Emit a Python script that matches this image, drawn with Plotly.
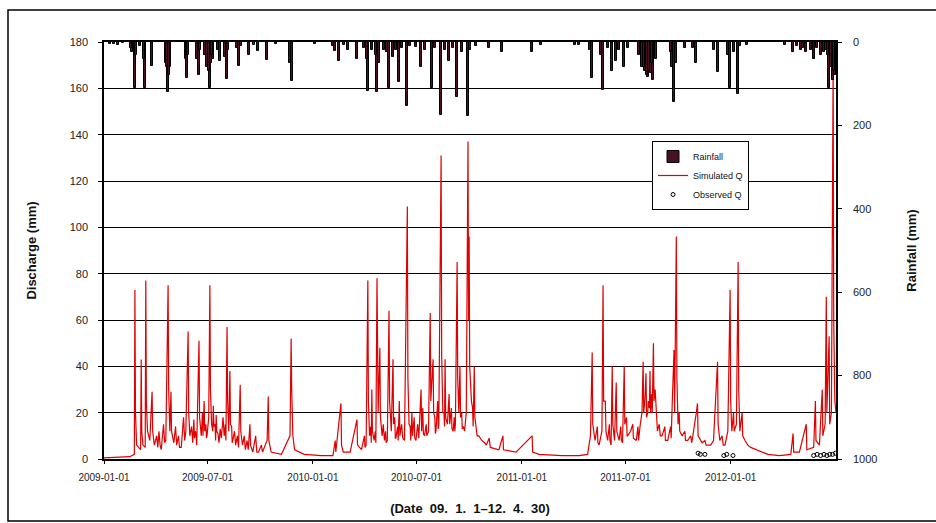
import pandas as pd
import plotly.graph_objects as go

START = "2009-01-01"

# Rainfall (mm): day offset from 2009-01-01 and daily total
rain_day = [10, 18, 25, 33, 49, 54, 63, 72, 83, 108, 112, 115, 143, 145, 166, 177, 182, 185,
            191, 203, 215, 236, 253, 269, 285, 325, 329, 369, 404, 411, 427, 442, 461, 468,
            477, 489, 498, 505, 516, 530, 535, 554, 573, 589, 603, 617, 636, 650, 673, 696,
            748, 764, 823, 830, 853, 872, 888, 895, 909, 916, 940, 946, 951, 956, 960, 965,
            993, 996, 1016, 1035, 1072, 1094, 1108, 1124, 1203, 1217, 1227, 1241, 1252,
            1262, 1267, 1273, 1278,
            48, 56, 70, 110, 114, 147, 163, 168, 180, 184, 187, 189, 200, 212, 217, 232, 240,
            262, 300, 400, 420, 455, 459, 475, 480, 495, 510, 520, 545, 560, 578, 595, 610,
            625, 640, 850, 868, 880, 900, 935, 943, 949, 953, 958, 990, 1000, 1030, 1065,
            1090, 1100, 1112, 1190, 1210, 1222, 1235, 1245, 1258, 1265, 1270, 1276]
rain_mm = [5, 4, 6, 3, 23, 110, 10, 110, 57, 50, 120, 60, 40, 86, 79, 30, 40, 110,
           40, 45, 89, 57, 30, 22, 43, 50, 93, 5, 22, 45, 20, 40, 117, 20,
           120, 20, 110, 35, 95, 153, 10, 60, 110, 175, 45, 131, 178, 10, 15, 25,
           25, 8, 8, 8, 86, 115, 70, 45, 60, 15, 60, 70, 85, 75, 90, 40,
           60, 143, 15, 50, 71, 110, 125, 8, 25, 20, 25, 40, 30,
           20, 110, 90, 80,
           15, 30, 40, 60, 80, 30, 40, 20, 60, 70, 50, 30, 20, 35, 20, 15, 10,
           8, 5, 10, 8, 15, 40, 30, 50, 25, 20, 15, 12, 20, 15, 20, 15,
           25, 20, 20, 30, 15, 20, 30, 60, 80, 70, 50, 25, 50, 15, 20,
           30, 25, 10, 8, 10, 15, 20, 15, 25, 30, 60, 70]

# Simulated discharge (mm): day offset and value
sim_day = [0, 20, 45, 53, 54, 55, 57, 64, 65, 66, 68, 72, 73, 74, 76, 80, 84, 85, 88, 100,
           108, 112, 113, 115, 117, 118, 122, 135, 143, 147, 148, 150, 157, 158, 162, 166,
           167, 170, 175, 176, 180, 185, 186, 188, 191, 192, 196, 197, 203, 205, 215, 216,
           218, 220, 221, 225, 230, 238, 239, 242, 255, 256, 260, 270, 285, 287, 288, 292,
           310, 325, 327, 328, 330, 333, 350, 380, 400, 404, 405, 414, 415, 418, 430, 442,
           443, 450, 458, 461, 462, 464, 468, 469, 472, 477, 478, 479, 482, 483, 486, 495,
           498, 499, 502, 505, 506, 510, 516, 517, 525, 530, 531, 533, 538, 539, 545, 554,
           555, 560, 567, 570, 571, 575, 576, 580, 585, 589, 590, 592, 596, 597, 600, 603,
           604, 610, 614, 617, 618, 620, 622, 623, 628, 633, 636, 637, 638, 639, 642, 647,
           648, 655, 665, 673, 675, 690, 697, 698, 720, 748, 749, 760, 800, 830, 845, 850,
           853, 854, 858, 865, 870, 872, 873, 876, 877, 880, 888, 889, 892, 895, 896, 900,
           909, 910, 915, 920, 930, 937, 942, 943, 947, 948, 951, 954, 955, 960, 961, 965,
           967, 975, 985, 993, 996, 997, 1000, 1001, 1003, 1010, 1020, 1035, 1037, 1038,
           1045, 1060, 1065, 1072, 1073, 1076, 1085, 1090, 1094, 1095, 1097, 1105, 1108,
           1109, 1111, 1115, 1116, 1125, 1140, 1160, 1180, 1200, 1204, 1205, 1215, 1227,
           1228, 1240, 1243, 1244, 1250, 1255, 1256, 1260, 1262, 1263, 1267, 1268, 1271,
           1274, 1275, 1277, 1279,
           92, 94, 96, 98, 104, 106, 125, 127, 130, 132, 139, 141, 153, 155, 160, 172, 173,
           178, 179, 183, 190, 194, 195, 199, 201, 208, 210, 212, 213, 223, 224, 228, 233,
           235, 245, 247, 250, 252, 265, 267, 275, 277,
           455, 456, 466, 467, 474, 475, 488, 490, 492, 493, 508, 509, 513, 514, 520, 522,
           535, 536, 542, 543, 548, 550, 557, 558, 563, 564, 578, 579, 583, 584, 594, 595,
           607, 608, 612, 613, 625, 626, 630, 644, 645, 650, 652, 660, 668,
           862, 863, 868, 883, 884, 886, 903, 904, 906, 913, 914, 924, 925, 933, 934, 940,
           945, 950, 953, 957, 958, 963, 970, 972, 980, 981, 990, 991, 1005, 1006, 1015,
           1016, 1025, 1027, 1050, 1052, 1080, 1082, 1100, 1101, 1120, 1130]
sim_q = [0.5, 0.8, 1.0, 2, 73, 20, 6, 4, 43, 12, 6, 5, 77, 25, 12, 8, 29, 12, 6, 4,
         8, 75, 30, 12, 29, 12, 7, 5, 12, 55, 20, 10, 17, 9, 6, 51,
         18, 10, 25, 12, 10, 75, 30, 15, 23, 14, 19, 12, 13, 9, 57, 25,
         12, 38, 15, 8, 6, 32, 12, 6, 15, 6, 3, 3, 8, 27, 8, 3,
         2, 10, 52, 30, 10, 4, 2, 1.5, 1.5, 8, 3, 24, 6, 3, 3, 17,
         6, 4, 6, 77, 25, 10, 30, 12, 8, 78, 48, 20, 48, 18, 10, 8,
         64, 25, 12, 43, 15, 9, 25, 10, 8, 109, 35, 15, 20, 10, 8, 30,
         12, 10, 12, 63, 25, 43, 20, 12, 15, 131, 45, 20, 43, 18, 15, 28,
         15, 12, 15, 85, 35, 20, 40, 18, 14, 20, 137, 60, 96, 40, 25, 40,
         18, 10, 7, 9, 5, 4, 10, 4, 3, 10, 3, 2, 1.5, 1.5, 2, 10,
         46, 15, 8, 6, 12, 75, 25, 25, 12, 8, 40, 15, 8, 33, 12, 8,
         40, 15, 10, 12, 8, 15, 42, 20, 37, 18, 25, 38, 20, 50, 25, 20,
         12, 10, 8, 25, 47, 20, 96, 35, 15, 10, 8, 20, 24, 10,
         7, 6, 8, 42, 15, 8, 6, 12, 73, 25, 12, 15, 85,
         30, 12, 20, 10, 6, 4, 2, 1.5, 2, 11, 3, 3, 15,
         4, 5, 25, 8, 6, 30, 10, 15, 70, 20, 53, 15, 20,
         170, 60, 25, 20,
         10, 5, 12, 6, 15, 7, 14, 6, 10, 5, 18, 8, 14, 7, 12, 20, 10,
         15, 9, 18, 12, 15, 8, 11, 7, 18, 10, 15, 8, 14, 7, 12, 10,
         5, 10, 4, 8, 4, 10, 3, 6, 3,
         10, 5, 14, 7, 12, 7, 15, 8, 12, 7, 18, 9, 14, 8, 15, 9,
         14, 8, 18, 9, 15, 9, 22, 11, 15, 10, 18, 11, 25, 13, 20, 14,
         22, 13, 18, 12, 20, 13, 12, 22, 14, 14, 10, 8, 6,
         14, 7, 10, 15, 8, 6, 14, 8, 7, 18, 10, 15, 9, 14, 8, 20,
         25, 20, 22, 28, 20, 30, 15, 10, 14, 8, 14, 9, 20, 12, 12,
         8, 10, 7, 8, 6, 10, 6, 20, 12, 8, 5]

# Observed discharge (mm)
obs_day = [1038, 1042, 1050, 1083, 1088, 1099, 1240, 1246, 1252, 1258, 1263, 1268, 1273, 1278]
obs_q = [2.5, 2.0, 2.0, 1.5, 2.0, 1.5, 1.5, 2.0, 1.5, 2.0, 1.5, 2.0, 2.0, 2.5]

tick_dates = ["2009-01-01", "2009-07-01", "2010-01-01", "2010-07-01",
              "2011-01-01", "2011-07-01", "2012-01-01"]

t0 = pd.Timestamp(START)
sim = pd.DataFrame({"day": sim_day, "q": sim_q}).sort_values("day")
rain_x = t0 + pd.to_timedelta(rain_day, unit="D")
sim_x = t0 + pd.to_timedelta(sim["day"].tolist(), unit="D")
obs_x = t0 + pd.to_timedelta(obs_day, unit="D")

FONT = "Liberation Sans, Arial, sans-serif"

fig = go.Figure()
fig.add_trace(go.Bar(
    x=rain_x, y=rain_mm, name="Rainfall", yaxis="y2",
    width=3.5 * 86400000,
    marker=dict(color="#4a1028", line=dict(color="black", width=1)),
))
fig.add_trace(go.Scatter(
    x=sim_x, y=sim["q"].tolist(), name="Simulated Q", mode="lines",
    line=dict(color="#e00000", width=1.2),
))
fig.add_trace(go.Scatter(
    x=obs_x, y=obs_q, name="Observed Q", mode="markers",
    marker=dict(symbol="circle-open", color="black", size=4, line=dict(width=1)),
))

L, R, T, B = 104, 100, 42, 64
W, H = 936, 523
pw, ph = W - L - R, H - T - B

def px(x):
    return (x - L) / pw

def py(y):
    return (H - B - y) / ph

fig.update_layout(
    width=W, height=H,
    margin=dict(l=L, r=R, t=T, b=B, pad=0, autoexpand=False),
    paper_bgcolor="white", plot_bgcolor="white",
    font=dict(family=FONT, size=11, color="#222"),
    bargap=0,
    xaxis=dict(
        type="date", automargin=False,
        range=["2009-01-01", "2012-07-03"],
        tickvals=tick_dates, ticktext=tick_dates,
        tickfont=dict(size=10, color="#222"),
        showgrid=False, showline=True, linecolor="black", linewidth=1.5, mirror=True,
        ticks="outside", ticklen=3, tickcolor="black", ticklabelstandoff=5,
        title=dict(text="<b>(Date  09.  1.  1\u201312.  4.  30)</b>",
                   font=dict(size=13, color="#111"), standoff=22),
        zeroline=False,
    ),
    yaxis=dict(
        range=[0, 180], dtick=20, automargin=False,
        showgrid=True, gridcolor="black", gridwidth=1,
        showline=True, linecolor="black", linewidth=1.5, mirror=True,
        ticks="outside", ticklen=4, tickcolor="black", ticklabelstandoff=8,
        tickfont=dict(size=11, color="#222"),
        title=dict(text="<b>Discharge (mm)</b>", font=dict(size=13, color="#111"), standoff=30),
        zeroline=False,
    ),
    yaxis2=dict(
        range=[1000, 0], dtick=200, overlaying="y", side="right", automargin=False,
        showgrid=False, showline=True, linecolor="black", linewidth=1.5,
        ticks="outside", ticklen=4, tickcolor="black", ticklabelstandoff=9,
        tickfont=dict(size=11, color="#222"),
        title=dict(text="<b>Rainfall (mm)</b>", font=dict(size=13, color="#111"), standoff=30),
        zeroline=False,
    ),
    legend=dict(
        x=px(652), y=py(141), xanchor="left", yanchor="top",
        bgcolor="white", bordercolor="black", borderwidth=1,
        font=dict(size=9, color="#111"),
        tracegroupgap=0, itemwidth=30,
    ),
    showlegend=True,
    shapes=[dict(type="rect", xref="paper", yref="paper",
                 x0=px(8), x1=px(940), y0=py(521), y1=py(10),
                 line=dict(color="black", width=1.5), fillcolor="rgba(0,0,0,0)",
                 layer="below")],
)

fig.write_html("out.html")
